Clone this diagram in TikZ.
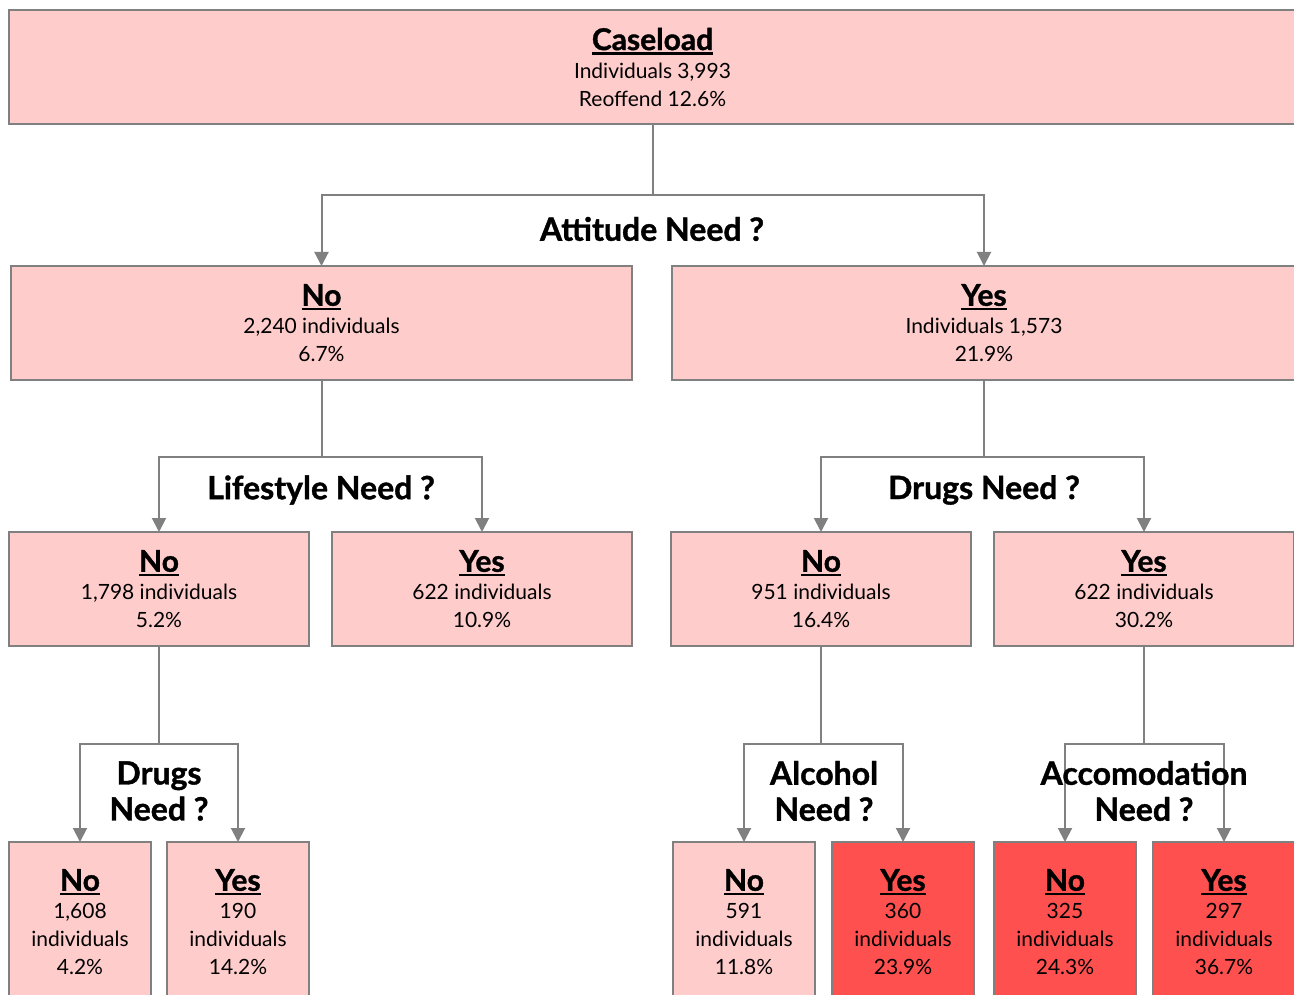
\documentclass[tikz,border=0pt]{standalone}
\usepackage{fontspec}
\setmainfont{Lato}
\newfontfamily\heavyfont{Lato}[FakeBold=1.2]
\usetikzlibrary{arrows.meta}
\definecolor{pinkfill}{HTML}{FFCCCC}
\definecolor{redfill}{HTML}{FF5050}
\definecolor{edgegray}{HTML}{808080}
\tikzset{
  box/.style={draw=edgegray, line width=2pt, fill=pinkfill, inner sep=0pt, outer sep=0pt, align=center,
    font=\fontsize{21}{28}\selectfont},
  hotbox/.style={box, fill=redfill},
  conn/.style={draw=edgegray, line width=2pt},
  arr/.style={conn, -{Triangle[width=14pt,length=14pt]}},
  question/.style={font=\fontsize{32}{36}\heavyfont\bfseries, align=center, inner sep=0pt},
}
\newcommand{\ttl}[1]{{\fontsize{30}{28}\heavyfont\bfseries\setbox0\hbox{#1}\rlap{\rule[-4.5pt]{\wd0}{2.2pt}}\box0}}
\begin{document}
\begin{tikzpicture}[x=1pt,y=-1pt]
\clip (0,0) rectangle (1294,995);
\fill[white] (0,0) rectangle (1294,995);
% level 0
\node[box, minimum width=1287pt, minimum height=114pt, anchor=north west] (root) at (9,10)
  {\ttl{Caseload}\\Individuals 3,993\\Reoffend 12.6\%};
% level 1
\node[box, minimum width=621pt, minimum height=114pt, anchor=north west] (no1) at (11,266)
  {\ttl{No}\\2,240 individuals\\6.7\%};
\node[box, minimum width=624pt, minimum height=114pt, anchor=north west] (yes1) at (672,266)
  {\ttl{Yes}\\Individuals 1,573\\21.9\%};
% level 2
\node[box, minimum width=300pt, minimum height=114pt, anchor=north west] (noA) at (9,532)
  {\ttl{No}\\1,798 individuals\\5.2\%};
\node[box, minimum width=300pt, minimum height=114pt, anchor=north west] (yesA) at (332,532)
  {\ttl{Yes}\\622 individuals\\10.9\%};
\node[box, minimum width=300pt, minimum height=114pt, anchor=north west] (noB) at (671,532)
  {\ttl{No}\\951 individuals\\16.4\%};
\node[box, minimum width=300pt, minimum height=114pt, anchor=north west] (yesB) at (994,532)
  {\ttl{Yes}\\622 individuals\\30.2\%};
% level 3
\node[box, minimum width=142pt, minimum height=160pt, anchor=north west] (noC) at (9,842)
  {\ttl{No}\\1,608\\individuals\\4.2\%};
\node[box, minimum width=142pt, minimum height=160pt, anchor=north west] (yesC) at (167,842)
  {\ttl{Yes}\\190\\individuals\\14.2\%};
\node[box, minimum width=142pt, minimum height=160pt, anchor=north west] (noD) at (673,842)
  {\ttl{No}\\591\\individuals\\11.8\%};
\node[hotbox, minimum width=142pt, minimum height=160pt, anchor=north west] (yesD) at (832,842)
  {\ttl{Yes}\\360\\individuals\\23.9\%};
\node[hotbox, minimum width=142pt, minimum height=160pt, anchor=north west] (noE) at (994,842)
  {\ttl{No}\\325\\individuals\\24.3\%};
\node[hotbox, minimum width=142pt, minimum height=160pt, anchor=north west] (yesE) at (1153,842)
  {\ttl{Yes}\\297\\individuals\\36.7\%};
% connectors
\draw[arr] (root.south) -- ++(0,71) -| (no1.north);
\draw[arr] (root.south) ++(0,71) -| (yes1.north);
\draw[arr] (no1.south) -- ++(0,77) -| (noA.north);
\draw[arr] (no1.south) ++(0,77) -| (yesA.north);
\draw[arr] (yes1.south) -- ++(0,77) -| (noB.north);
\draw[arr] (yes1.south) ++(0,77) -| (yesB.north);
\draw[arr] (noA.south) -- ++(0,98) -| (noC.north);
\draw[arr] (noA.south) ++(0,98) -| (yesC.north);
\draw[arr] (noB.south) -- ++(0,98) -| (noD.north);
\draw[arr] (noB.south) ++(0,98) -| (yesD.north);
\draw[arr] (yesB.south) -- ++(0,98) -| (noE.north);
\draw[arr] (yesB.south) ++(0,98) -| (yesE.north);
% questions
\node[question] (q1) at (652,229) {Attitude Need ?};
\node[question] (q2) at (321,490) {Lifestyle Need ?};
\node[question] (q3) at (984,490) {Drugs Need ?};
\node[question] (q4) at (159,791) {Drugs\\Need ?};
\node[question] (q5) at (824,791) {Alcohol\\Need ?};
\node[question] (q6) at (1144,791) {Accomodation\\Need ?};
\end{tikzpicture}
\end{document}
